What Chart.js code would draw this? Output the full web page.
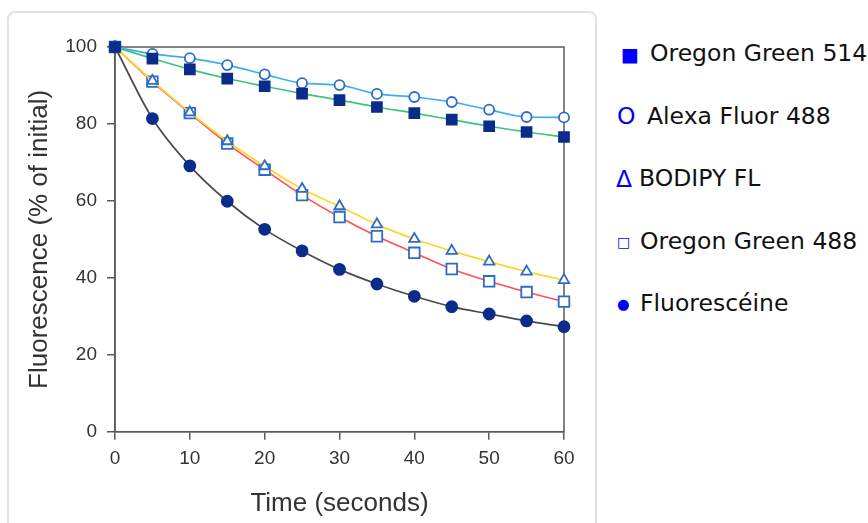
<!DOCTYPE html>
<html>
<head>
<meta charset="utf-8">
<script src="https://cdn.jsdelivr.net/npm/chart.js@4"></script>
<style>
  html, body { margin: 0; padding: 0; background: #fff; width: 868px; height: 523px; overflow: hidden; }
  .card {
    position: absolute; left: 7px; top: 11px; width: 590px; height: 540px;
    border: 2px solid #e2e2e2; border-radius: 8px; box-sizing: border-box;
  }
  #wrap { position: absolute; left: 0; top: 0; width: 600px; height: 523px; }
  .legend {
    position: absolute; left: 616px; top: 38px;
    font-family: 'DejaVu Sans', sans-serif; font-size: 23.5px; color: #111;
  }
  .legend div { height: 30px; line-height: 30px; margin-bottom: 32.5px; white-space: nowrap; }
  .sym { color: #0000ff; display: inline-block; vertical-align: middle; line-height: 1; }
  .s0 { font-size: 19px; margin-left: 5px; width: 29px; }
  .s1 { margin-left: 1px; width: 30px; }
  .s2 { width: 23px; }
  .s3 { font-size: 14px; margin-left: 1px; width: 23px; }
  .s4 { font-size: 14.5px; margin-left: 1px; width: 23px; }
</style>
</head>
<body>
<div class="card"></div>
<div id="wrap"><canvas id="photoChart"></canvas></div>
<div class="legend" id="legend"></div>

<script>
  // ==================== Data ====================
  const times = [0, 5, 10, 15, 20, 25, 30, 35, 40, 45, 50, 55, 60];

  const oregonGreen514 = [100, 97.0, 94.2, 91.8, 89.8, 87.9, 86.2, 84.4, 82.8, 81.1, 79.4, 77.9, 76.6];
  const alexaFluor488  = [100, 98.2, 97.1, 95.3, 92.9, 90.6, 90.1, 87.8, 87.0, 85.7, 83.7, 81.8, 81.7];
  const bodipyFL       = [100, 91.2, 83.0, 75.5, 69.0, 63.1, 58.6, 53.9, 50.1, 47.0, 44.2, 41.6, 39.4];
  const oregonGreen488 = [100, 91.0, 82.8, 74.9, 68.1, 61.5, 55.8, 50.8, 46.5, 42.3, 39.1, 36.3, 33.8];
  const fluorescein    = [100, 81.4, 69.1, 59.9, 52.6, 47.0, 42.2, 38.4, 35.2, 32.5, 30.6, 28.8, 27.3];

  const seriesNames = ['Oregon Green 514', 'Alexa Fluor 488', 'BODIPY FL', 'Oregon Green 488', 'Fluorescéine'];
  const legendSymbols = ['■', 'O', 'Δ', '□', '●'];

  const xTicks = [0, 10, 20, 30, 40, 50, 60];
  const yTicks = [0, 20, 40, 60, 80, 100];

  // ==================== Styles ====================
  const NAVY = '#0a2d8c';
  const OPEN = '#2c6cc6';

  const SERIES = [
    { values: oregonGreen514, line: '#3cc47e', style: 'rect',     radius: 7,   fill: NAVY,   stroke: NAVY },
    { values: alexaFluor488,  line: '#3aaef0', style: 'circle',   radius: 5,   fill: '#fff', stroke: OPEN },
    { values: bodipyFL,       line: '#ffd527', style: 'triangle', radius: 6,   fill: '#fff', stroke: OPEN },
    { values: oregonGreen488, line: '#ff5252', style: 'rect',     radius: 7.5, fill: '#fff', stroke: OPEN },
    { values: fluorescein,    line: '#4a4a4a', style: 'circle',   radius: 5.5, fill: NAVY,   stroke: NAVY }
  ];

  // ==================== Legend ====================
  document.getElementById('legend').innerHTML = seriesNames
    .map((name, i) => `<div><span class="sym s${i}">${legendSymbols[i]}</span>${name}</div>`)
    .join('');

  // ==================== Chart ====================
  const frame = {
    id: 'frame',
    beforeDatasetsDraw(chart) {
      const { ctx, chartArea: a } = chart;
      ctx.save();
      ctx.strokeStyle = '#5a5a5a';
      ctx.lineWidth = 1.5;
      ctx.strokeRect(a.left, a.top, a.right - a.left, a.bottom - a.top);
      ctx.restore();
    }
  };

  const datasets = SERIES.map((s, i) => ({
    label: seriesNames[i],
    data: times.map((t, j) => ({ x: t, y: s.values[j] })),
    borderColor: s.line,
    borderWidth: 1.7,
    tension: 0.4,
    cubicInterpolationMode: 'monotone',
    pointStyle: s.style,
    pointRadius: s.radius,
    pointBackgroundColor: s.fill,
    pointBorderColor: s.stroke,
    pointBorderWidth: 1.8,
    clip: false
  }));

  const tickFont = { family: "'Liberation Sans', Arial, sans-serif", size: 19 };
  const titleFont = { family: "'Liberation Sans', Arial, sans-serif", size: 26 };

  new Chart(document.getElementById('photoChart'), {
    type: 'line',
    data: { datasets },
    plugins: [frame],
    options: {
      responsive: true,
      maintainAspectRatio: false,
      animation: false,
      layout: { padding: { left: 24, top: 47, right: 36, bottom: 0 } },
      plugins: { legend: { display: false }, tooltip: { enabled: false } },
      scales: {
        x: {
          type: 'linear',
          min: 0,
          max: 60,
          afterBuildTicks: s => { s.ticks = xTicks.map(v => ({ value: v })); },
          afterFit: s => { s.height = 91.3; },
          ticks: { color: '#333', font: tickFont, padding: 8, maxRotation: 0 },
          grid: { drawOnChartArea: false, drawTicks: true, tickLength: 8, color: '#5a5a5a', lineWidth: 1.5 },
          border: { display: true, color: '#5a5a5a', width: 1.5 },
          title: { display: true, text: 'Time (seconds)', color: '#333', font: titleFont, padding: { top: 0, bottom: 4 } }
        },
        y: {
          min: 0,
          max: 100,
          afterBuildTicks: s => { s.ticks = yTicks.map(v => ({ value: v })); },
          afterFit: s => { s.width = 91; },
          ticks: { color: '#333', font: tickFont, padding: 10 },
          grid: { drawOnChartArea: false, drawTicks: true, tickLength: 8, color: '#5a5a5a', lineWidth: 1.5 },
          border: { display: true, color: '#5a5a5a', width: 1.5 },
          title: { display: true, text: 'Fluorescence (% of initial)', color: '#333', font: titleFont, padding: { top: 0, bottom: 0 } }
        }
      }
    }
  });
</script>
</body>
</html>
